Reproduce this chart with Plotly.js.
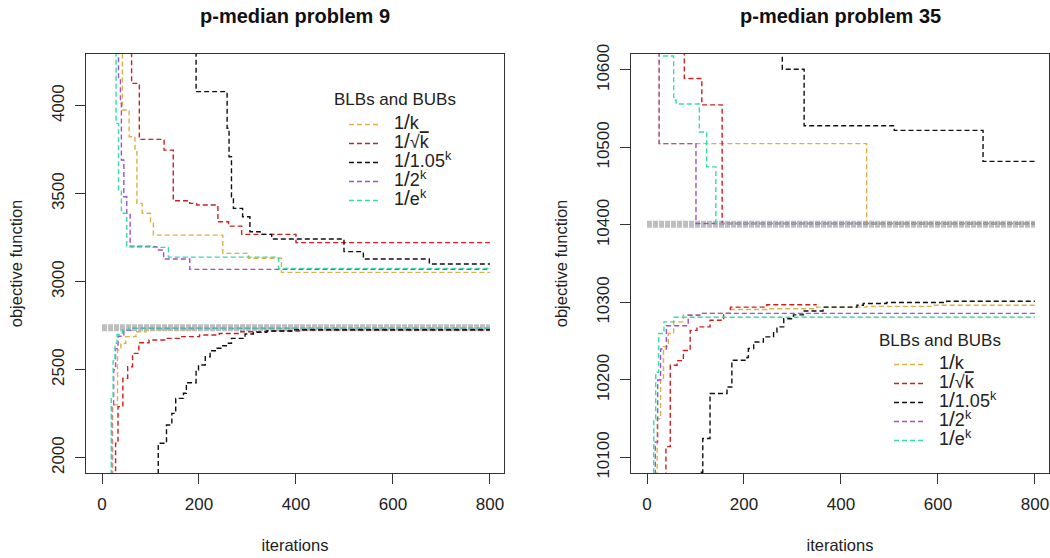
<!DOCTYPE html>
<html><head><meta charset="utf-8">
<script src="https://cdn.plot.ly/plotly-3.0.1.min.js"></script>
<style>html,body{margin:0;padding:0;background:#fff}#chart{width:1050px;height:558px}</style>
</head><body><div id="chart"></div>
<script>
// ---------- data: p-median problem 9 ----------
const p9_opt_x = [0, 800];
const p9_opt_y = [2739, 2739];

const p9_ub_k_x    = [0, 42, 56, 68, 72, 83, 100, 106, 249, 302, 370, 800];
const p9_ub_k_y    = [6000, 3976, 3824, 3739, 3445, 3389, 3341, 3265, 3161, 3133, 3053, 3053];
const p9_ub_sqrt_x = [0, 61, 77, 128, 147, 181, 195, 239, 261, 288, 400, 800];
const p9_ub_sqrt_y = [6000, 4127, 3809, 3748, 3460, 3445, 3436, 3341, 3316, 3269, 3222, 3222];
const p9_ub_105_x  = [0, 194, 258, 262, 267, 271, 290, 305, 326, 350, 499, 539, 675, 800];
const p9_ub_105_y  = [6000, 4080, 3872, 3710, 3483, 3417, 3369, 3284, 3269, 3243, 3171, 3129, 3101, 3101];
const p9_ub_2_x    = [0, 34, 38, 40, 45, 51, 58, 113, 127, 181, 800];
const p9_ub_2_y    = [6000, 4146, 4014, 3692, 3483, 3389, 3199, 3180, 3129, 3070, 3070];
const p9_ub_e_x    = [0, 29, 34, 40, 51, 102, 137, 364, 800];
const p9_ub_e_y    = [6000, 3900, 3521, 3389, 3203, 3195, 3140, 3076, 3076];

const p9_lb_k_x    = [0, 22, 32, 39, 49, 70, 91, 200, 800];
const p9_lb_k_y    = [1000, 2300, 2612, 2650, 2688, 2716, 2728, 2733, 2733];
const p9_lb_sqrt_x = [0, 28, 33, 43, 53, 63, 76, 97, 131, 160, 201, 242, 283, 338, 407, 800];
const p9_lb_sqrt_y = [1000, 2082, 2290, 2451, 2517, 2593, 2653, 2669, 2678, 2688, 2697, 2706, 2716, 2720, 2725, 2725];
const p9_lb_105_x  = [0, 116, 133, 144, 152, 168, 174, 194, 199, 213, 223, 237, 247, 258, 267, 295, 312, 340, 394, 800];
const p9_lb_105_y  = [1000, 2082, 2186, 2252, 2337, 2366, 2426, 2498, 2527, 2574, 2608, 2622, 2636, 2650, 2678, 2703, 2712, 2720, 2727, 2727];
const p9_lb_2_x    = [0, 20, 24, 28, 33, 45, 60, 800];
const p9_lb_2_y    = [1000, 2300, 2500, 2620, 2690, 2725, 2735, 2735];
const p9_lb_e_x    = [0, 19, 23, 27, 31, 42, 55, 800];
const p9_lb_e_y    = [1000, 2350, 2550, 2650, 2700, 2728, 2737, 2737];

// ---------- data: p-median problem 35 ----------
const p35_opt_x = [0, 800];
const p35_opt_y = [10401, 10401];

const p35_ub_k_x    = [0, 25, 453, 800];
const p35_ub_k_y    = [11000, 10505, 10402, 10402];
const p35_ub_sqrt_x = [0, 77, 113, 155, 800];
const p35_ub_sqrt_y = [11000, 10589, 10555, 10402, 10402];
const p35_ub_105_x  = [0, 279, 324, 510, 693, 800];
const p35_ub_105_y  = [11000, 10601, 10528, 10522, 10482, 10482];
const p35_ub_2_x    = [0, 25, 101, 800];
const p35_ub_2_y    = [11000, 10505, 10402, 10402];
const p35_ub_e_x    = [0, 32, 55, 60, 108, 123, 142, 800];
const p35_ub_e_y    = [11000, 10618, 10561, 10556, 10520, 10475, 10402, 10402];

const p35_lb_k_x    = [0, 21, 28, 34, 44, 55, 75, 108, 172, 247, 350, 453, 590, 800];
const p35_lb_k_y    = [9500, 10150, 10200, 10243, 10260, 10275, 10284, 10286, 10291, 10292, 10294, 10295, 10296.5, 10296.5];
const p35_lb_sqrt_x = [0, 39, 48, 62, 75, 89, 103, 130, 158, 172, 247, 350];
const p35_lb_sqrt_y = [9500, 10114, 10219, 10225, 10238, 10264, 10268.5, 10277, 10286, 10294, 10297, 10297];
const p35_lb_105_x  = [0, 106, 115, 130, 165, 175, 206, 209, 220, 240, 261, 268, 282, 302, 322, 363, 433, 446, 494, 618, 800];
const p35_lb_105_y  = [9500, 10081, 10124.5, 10182.6, 10191, 10225.5, 10229, 10240.6, 10249, 10255.6, 10262, 10268.5, 10279, 10284, 10289, 10294, 10296.5, 10298.7, 10300, 10301.6, 10301.6];
const p35_lb_2_x    = [0, 17, 22, 28, 40, 85, 109, 800];
const p35_lb_2_y    = [9500, 10120, 10200, 10240, 10270, 10283.6, 10286, 10286];
const p35_lb_e_x    = [0, 14, 18, 24, 35, 55, 800];
const p35_lb_e_y    = [9500, 10150, 10210, 10260, 10275, 10281, 10281];

// ---------- labels ----------
const SL = "<span style='font-size:21px'>/</span>";
const seriesNames = [
  "<span style='font-size:18px'>\u00A0\u00A01" + SL + "k</span>",
  "<span style='font-size:18px'>\u00A0\u00A01" + SL + "√<span style='text-decoration:overline'>k</span></span>",
  "<span style='font-size:18px'>\u00A0\u00A01" + SL + "1.05<sup>k</sup></span>",
  "<span style='font-size:18px'>\u00A0\u00A01" + SL + "2<sup>k</sup></span>",
  "<span style='font-size:18px'>\u00A0\u00A01" + SL + "e<sup>k</sup></span>"
];
const seriesColors = ['#DDB044', '#CC2020', '#111111', '#A04ED2', '#33DCA8'];
const legendTitle = 'BLBs and BUBs';
const plotTitles = ['p-median problem 9', 'p-median problem 35'];
const xTitle = 'iterations';
const yTitle = 'objective function';

// ---------- build traces ----------
const DASH = '5px,3px';
function step(x, y, color, xa, ya, name, legend, show) {
  return {x: x, y: y, type: 'scatter', mode: 'lines', line: {shape: 'hv', color: color, width: 1.4, dash: DASH},
          xaxis: xa, yaxis: ya, name: name, legend: legend, showlegend: show, hoverinfo: 'skip'};
}
function opt(x, y, xa, ya) {
  return {x: x, y: y, type: 'scatter', mode: 'lines', line: {color: '#BEBEBE', width: 7, dash: '5px,1px'},
          xaxis: xa, yaxis: ya, showlegend: false, hoverinfo: 'skip'};
}
const p9ub = [[p9_ub_k_x,p9_ub_k_y],[p9_ub_sqrt_x,p9_ub_sqrt_y],[p9_ub_105_x,p9_ub_105_y],[p9_ub_2_x,p9_ub_2_y],[p9_ub_e_x,p9_ub_e_y]];
const p9lb = [[p9_lb_k_x,p9_lb_k_y],[p9_lb_sqrt_x,p9_lb_sqrt_y],[p9_lb_105_x,p9_lb_105_y],[p9_lb_2_x,p9_lb_2_y],[p9_lb_e_x,p9_lb_e_y]];
const p35ub = [[p35_ub_k_x,p35_ub_k_y],[p35_ub_sqrt_x,p35_ub_sqrt_y],[p35_ub_105_x,p35_ub_105_y],[p35_ub_2_x,p35_ub_2_y],[p35_ub_e_x,p35_ub_e_y]];
const p35lb = [[p35_lb_k_x,p35_lb_k_y],[p35_lb_sqrt_x,p35_lb_sqrt_y],[p35_lb_105_x,p35_lb_105_y],[p35_lb_2_x,p35_lb_2_y],[p35_lb_e_x,p35_lb_e_y]];

const traces = [opt(p9_opt_x, p9_opt_y, 'x', 'y'), opt(p35_opt_x, p35_opt_y, 'x2', 'y2')];
for (let i = 0; i < 5; i++) {
  traces.push(step(p9ub[i][0], p9ub[i][1], seriesColors[i], 'x', 'y', seriesNames[i], 'legend', true));
  traces.push(step(p9lb[i][0], p9lb[i][1], seriesColors[i], 'x', 'y', seriesNames[i], 'legend', false));
  traces.push(step(p35ub[i][0], p35ub[i][1], seriesColors[i], 'x2', 'y2', seriesNames[i], 'legend2', true));
  traces.push(step(p35lb[i][0], p35lb[i][1], seriesColors[i], 'x2', 'y2', seriesNames[i], 'legend2', false));
}

const FONT = 'Liberation Sans, Arial, sans-serif';
function xax(domain, anchor) {
  return {domain: domain, anchor: anchor, range: [-33, 829], tickvals: [0, 200, 400, 600, 800],
          showline: true, mirror: true, linecolor: '#333', linewidth: 1, ticks: 'outside', ticklen: 10,
          tickcolor: '#333', showgrid: false, zeroline: false, ticklabelstandoff: 6,
          tickfont: {family: FONT, size: 17, color: '#222'},
          title: {text: xTitle, standoff: 26, font: {family: FONT, size: 16.5, color: '#222'}}};
}
function yax(domain, anchor, range, vals) {
  return {domain: domain, anchor: anchor, range: range, tickvals: vals, tickangle: -90, tickformat: 'd',
          showline: true, mirror: true, linecolor: '#333', linewidth: 1, ticks: 'outside', ticklen: 10,
          tickcolor: '#333', showgrid: false, zeroline: false, ticklabelstandoff: 4,
          tickfont: {family: FONT, size: 17, color: '#222'},
          title: {text: yTitle, standoff: 22, font: {family: FONT, size: 16.5, color: '#222'}}};
}
const yDom = [85/558, 504/558];
const legendBase = {bgcolor: 'rgba(0,0,0,0)', borderwidth: 0, xanchor: 'left', yanchor: 'top', tracegroupgap: 0,
  font: {family: FONT, size: 12, color: '#222'}};
function ann(text, x, y, size, extra) {
  return Object.assign({text: text, x: x/1050, y: 1 - y/558, xref: 'paper', yref: 'paper', showarrow: false,
    font: {family: FONT, size: size, color: '#222'}, xanchor: 'center', yanchor: 'middle'}, extra || {});
}

const layout = {
  width: 1050, height: 558, margin: {l: 0, r: 0, t: 0, b: 0},
  paper_bgcolor: '#fff', plot_bgcolor: '#fff', font: {family: FONT},
  xaxis: xax([86/1050, 504/1050], 'y'),
  yaxis: yax(yDom, 'x', [1913, 4294], [2000, 2500, 3000, 3500, 4000]),
  xaxis2: xax([631/1050, 1049/1050], 'y2'),
  yaxis2: yax(yDom, 'x2', [10080, 10620.6], [10100, 10200, 10300, 10400, 10500, 10600]),
  legend: Object.assign({}, legendBase, {x: 344/1050, y: 1 - 110/558}),
  legend2: Object.assign({}, legendBase, {x: 889/1050, y: 1 - 350/558}),
  annotations: [
    ann('<b>' + plotTitles[0] + '</b>', 295, 16, 20, {font: {family: FONT, size: 20, color: '#111'}}),
    ann('<b>' + plotTitles[1] + '</b>', 840, 16, 20, {font: {family: FONT, size: 20, color: '#111'}}),
    ann(legendTitle, 395, 99, 17),
    ann(legendTitle, 940, 340, 17)
  ]
};
Plotly.newPlot('chart', traces, layout, {staticPlot: true, displayModeBar: false});
</script></body></html>
